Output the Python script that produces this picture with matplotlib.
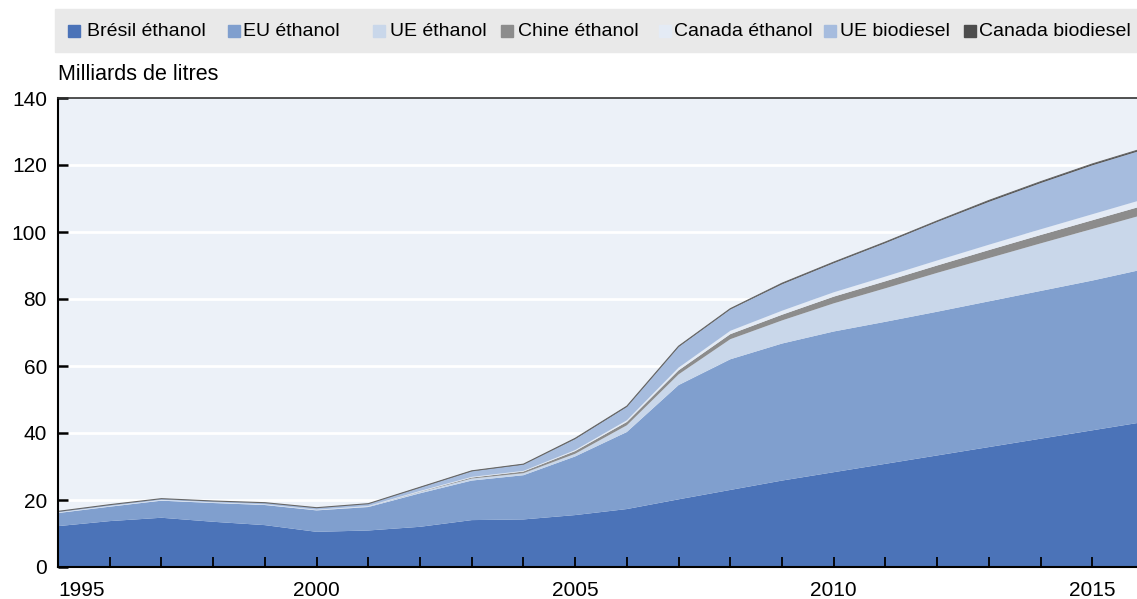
import matplotlib
matplotlib.use("Agg")
import matplotlib.pyplot as plt
from matplotlib.patches import Rectangle
from matplotlib.transforms import ScaledTranslation

plt.rcParams["font.family"] = ["Liberation Sans", "DejaVu Sans"]

years = list(range(1995, 2017))

bresil_ethanol = [12.2, 13.7, 14.7, 13.5, 12.5, 10.5, 10.9, 12.0, 14.0, 14.2, 15.5,
                  17.3, 20.2, 23.0, 25.8, 28.3, 30.8, 33.3, 35.8, 38.3, 40.8, 43.3]
eu_ethanol = [3.9, 4.3, 5.1, 5.6, 6.0, 6.4, 7.0, 10.0, 11.8, 13.2, 17.5,
              23.0, 34.1, 39.0, 40.9, 42.0, 42.4, 42.9, 43.5, 44.1, 44.7, 45.6]
ue_ethanol = [0.1, 0.1, 0.1, 0.1, 0.1, 0.1, 0.2, 0.4, 0.6, 0.6, 0.8,
              2.0, 3.2, 6.0, 6.9, 8.4, 10.0, 11.6, 12.9, 14.2, 15.4, 16.3]
chine_ethanol = [0.0, 0.0, 0.0, 0.0, 0.0, 0.0, 0.0, 0.1, 0.3, 0.5, 0.8,
                 1.0, 1.2, 1.5, 1.7, 2.0, 2.1, 2.2, 2.4, 2.5, 2.6, 2.7]
canada_ethanol = [0.1, 0.1, 0.1, 0.1, 0.1, 0.1, 0.1, 0.2, 0.2, 0.2, 0.3,
                  0.5, 0.8, 1.0, 1.2, 1.3, 1.4, 1.5, 1.6, 1.7, 1.8, 1.9]
ue_biodiesel = [0.3, 0.4, 0.4, 0.4, 0.5, 0.6, 0.7, 1.0, 1.7, 1.9, 3.3,
                4.0, 6.2, 6.4, 7.9, 8.7, 10.0, 11.5, 12.8, 13.8, 14.6, 14.8]
canada_biodiesel = [0.0, 0.0, 0.0, 0.0, 0.0, 0.0, 0.0, 0.1, 0.1, 0.1, 0.2,
                    0.2, 0.2, 0.2, 0.3, 0.3, 0.3, 0.3, 0.4, 0.4, 0.4, 0.4]

series = [bresil_ethanol, eu_ethanol, ue_ethanol, chine_ethanol,
          canada_ethanol, ue_biodiesel, canada_biodiesel]
labels = ["Brésil éthanol", "EU éthanol", "UE éthanol", "Chine éthanol",
          "Canada éthanol", "UE biodiesel", "Canada biodiesel"]
colors = ["#4b73b8", "#809fce", "#c9d7ea", "#8c8c8c",
          "#e4ebf5", "#a6bcde", "#4d4d4d"]

W, H = 1137, 599
fig = plt.figure(figsize=(W / 100, H / 100), dpi=100)
ax = fig.add_axes([58 / W, 32 / H, 1086 / W, 469 / H])
ax.set_facecolor("#ecf1f8")

# white gridlines behind the areas
for yv in range(20, 140, 20):
    ax.axhline(yv, color="white", lw=2, zorder=0.5)

ax.stackplot(years, *series, colors=colors, linewidth=0, zorder=1)
total = [sum(v) for v in zip(*series)]
ax.plot(years, total, color="#666666", lw=0.8, zorder=1.2)

ax.set_xlim(1995, 2016)
ax.set_ylim(0, 140)
ax.set_yticks(range(0, 141, 20))
ax.set_xticks([1995, 2000, 2005, 2010, 2015])
ax.set_xticks(range(1995, 2017), minor=True)
ax.set_xticklabels(["1995", "2000", "2005", "2010", "2015"])
first = ax.get_xticklabels()[0]
first.set_horizontalalignment("left")
first.set_transform(first.get_transform() + ScaledTranslation(4 / 100, 0, fig.dpi_scale_trans))
ax.tick_params(axis="x", which="both", direction="in", length=7, width=1.3,
               labelsize=15, pad=10, colors="black")
ax.tick_params(axis="y", direction="in", length=7, width=1.8, labelsize=15, pad=8)

for side in ["left", "bottom"]:
    ax.spines[side].set_linewidth(1.5)
ax.spines["top"].set_linewidth(1.2)
ax.spines["top"].set_color("#333333")
ax.spines["right"].set_visible(False)

fig.text(58 / W, 1 - 75 / H, "Milliards de litres", fontsize=15.5,
         va="center", ha="left")

# legend band at the top, entries placed by hand
fig.patches.append(Rectangle((55 / W, 1 - 52 / H), 1, 43 / H,
                             transform=fig.transFigure, color="#e9e9e9", zorder=0))
box_x = [68, 228, 373, 501, 659, 824, 964]
text_x = [87, 243, 390, 518, 674, 840, 979]
for bx, tx, lab, c in zip(box_x, text_x, labels, colors):
    fig.patches.append(Rectangle((bx / W, 1 - 37 / H), 12 / W, 12 / H,
                                 transform=fig.transFigure, color=c, zorder=1))
    fig.text(tx / W, 1 - 31 / H, lab, fontsize=14, va="center", ha="left")

fig.savefig("out.png", dpi=100)
